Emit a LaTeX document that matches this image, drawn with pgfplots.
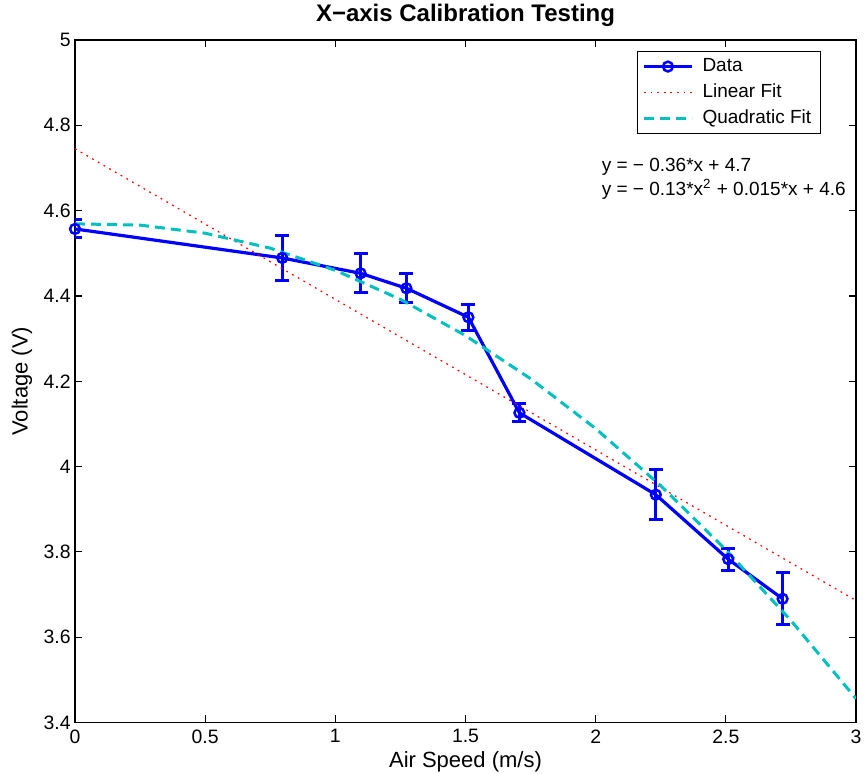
\documentclass[border=0pt]{standalone}
\usepackage{fontspec}
\setmainfont{Liberation Sans}
\usepackage{pgfplots}
\pgfplotsset{compat=1.18}
\definecolor{mblue}{rgb}{0,0,1}
\definecolor{mred}{rgb}{1,0,0}
\definecolor{mcyan}{rgb}{0,0.75,0.75}
\begin{document}
\begin{tikzpicture}
\begin{axis}[
  scale only axis,
  width=390.5pt, height=341.25pt,
  xmin=0, xmax=3, ymin=3.4, ymax=5,
  xtick={0,0.5,1,1.5,2,2.5,3},
  ytick={3.4,3.6,3.8,4,4.2,4.4,4.6,4.8,5},
  tick align=inside,
  xtick pos=both, ytick pos=both,
  major tick length=3.5pt,
  axis line style={line width=0.8pt},
  every tick/.style={black, line width=0.6pt},
  /pgf/number format/assume math mode=true,
  ticklabel style={font=\fontsize{9.7}{11}\selectfont},
  yticklabel style={inner xsep=2pt},
  every axis title shift=0pt,
  title={\bfseries X−axis Calibration Testing},
  title style={font=\fontsize{12}{14}\selectfont, at={([yshift=12.5pt]axis description cs:0.5,1)}, anchor=center},
  xlabel={Air Speed (m/s)},
  ylabel={Voltage (V)},
  xlabel style={font=\fontsize{11}{13}\selectfont, at={([yshift=-19.75pt]axis description cs:0.5,0)}, anchor=center},
  ylabel style={font=\fontsize{11}{13}\selectfont, at={([xshift=-26.5pt]axis description cs:0,0.5)}, anchor=center},
  legend style={at={(axis description cs:0.955,0.984)}, anchor=north east,
    draw=black, line width=0.6pt, font=\fontsize{9.5}{11}\selectfont,
    cells={anchor=west}, inner xsep=2.5pt, inner ysep=1.5pt, row sep=0.6pt, column sep=2.5pt},
  legend image code/.code={\draw[mark repeat=2,mark phase=2,#1] plot coordinates {(0pt,0pt) (12pt,0pt) (24pt,0pt)};},
]
\addplot[mblue, line width=1.6pt, mark=o, mark size=2.45pt, mark options={line width=1.25pt, solid},
  error bars/.cd, y dir=both, y explicit,
  error bar style={line width=1.5pt, mblue},
  error mark options={rotate=90, line width=1.5pt, mark size=3.5pt, mblue}]
  table[x=x, y=y, y error=e] {
x y e
0.000 4.557 0.021
0.796 4.489 0.053
1.097 4.453 0.046
1.273 4.418 0.034
1.511 4.350 0.030
1.707 4.126 0.021
2.231 3.934 0.059
2.509 3.783 0.026
2.718 3.690 0.061
};
\addlegendentry{Data}
\addplot[mred, line width=0.6pt, dash pattern=on 0.9pt off 2.4pt] coordinates {(0,4.745) (3,3.686)};
\addlegendentry{Linear Fit}
\addplot[mcyan, line width=1.5pt, dash pattern=on 5pt off 3pt] coordinates {
(0,4.569) (0.25,4.566) (0.5,4.547) (0.75,4.512) (1,4.460) (1.25,4.392) (1.5,4.307)
(1.75,4.206) (2,4.089) (2.25,3.955) (2.5,3.805) (2.75,3.639) (3,3.456)};
\addlegendentry{Quadratic Fit}
\node[anchor=west, inner sep=0pt, font=\fontsize{9.5}{11}\selectfont] at (axis cs:2.022,4.703) {y = − 0.36*x + 4.7};
\node[anchor=west, inner sep=0pt, font=\fontsize{9.5}{11}\selectfont] at (axis cs:2.022,4.650) {y = − 0.13*x\textsuperscript{2} + 0.015*x + 4.6};
\end{axis}
\pgfresetboundingbox
\path[use as bounding box] (current axis.south west) ++(-37.5pt,-25.75pt) rectangle ++(432.5pt,387pt);
\end{tikzpicture}
\end{document}
